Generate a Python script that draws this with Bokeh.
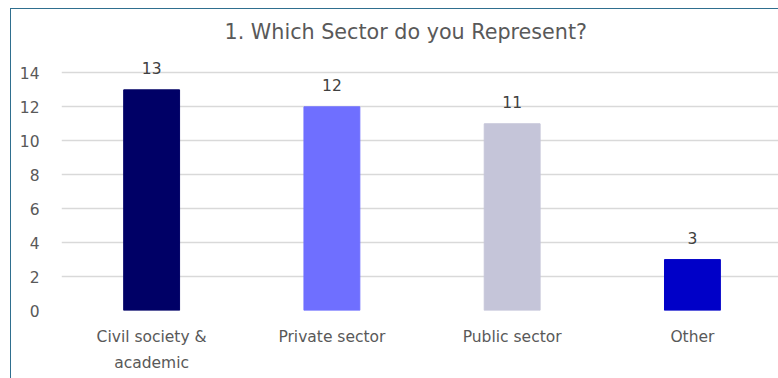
from bokeh.plotting import figure
from bokeh.models import Range1d, FixedTicker, ColumnDataSource, LabelSet
from bokeh.core.properties import value
from bokeh.embed import file_html
from bokeh.resources import INLINE

categories = ["Civil society &\nacademic", "Private sector", "Public sector", "Other"]
counts = [13, 12, 11, 3]
colors = ["#000066", "#6f6fff", "#c5c5d9", "#0000c8"]
y_ticks = [0, 2, 4, 6, 8, 10, 12, 14]
title_text = "1. Which Sector do you Represent?"

FONT = "DejaVu Sans"
TXT = "#595959"

xs = list(range(len(categories)))
src = ColumnDataSource(dict(x=xs, top=counts, color=colors, lbl=[str(c) for c in counts]))

p = figure(width=768, height=370, output_backend="svg", toolbar_location=None,
           x_range=Range1d(-0.5, 3.483), y_range=Range1d(0, 15.2),
           min_border_left=50, min_border_right=0, min_border_top=43, min_border_bottom=69,
           title=title_text)
p.styles = {"margin-left": "10px", "margin-top": "8px",
            "border-left": "1px solid #2f6f8f", "border-top": "1px solid #2f6f8f"}

p.title.align = "left"
p.title.offset = 163
p.title.text_font = FONT
p.title.text_font_size = "20.7px"
p.title.text_font_style = "normal"
p.title.text_color = TXT
p.title.text_line_height = 0.85
p.title.standoff = 17

p.vbar(x="x", top="top", width=0.31, color="color", source=src)
p.add_layout(LabelSet(x="x", y="top", text="lbl", source=src, text_align="center",
                      y_offset=16, text_font=value(FONT), text_font_size=value("15.5px"),
                      text_color="#404040"))

p.outline_line_color = None
p.xgrid.grid_line_color = None
p.ygrid.grid_line_color = "#d9d9d9"
p.ygrid.grid_line_width = 1.5
p.yaxis.ticker = FixedTicker(ticks=y_ticks)
p.xaxis.ticker = FixedTicker(ticks=xs)
p.xaxis.major_label_overrides = {i: c for i, c in enumerate(categories)}
for ax in (p.xaxis[0], p.yaxis[0]):
    ax.axis_line_color = None
    ax.major_tick_line_color = None
    ax.minor_tick_line_color = None
    ax.major_label_text_font = FONT
    ax.major_label_text_font_size = "15.5px"
    ax.major_label_text_color = TXT
p.xaxis.major_label_text_line_height = 1.48
p.yaxis.major_label_standoff = 16
p.xaxis.major_label_standoff = 11

open("out.html", "w").write(file_html(p, INLINE))
